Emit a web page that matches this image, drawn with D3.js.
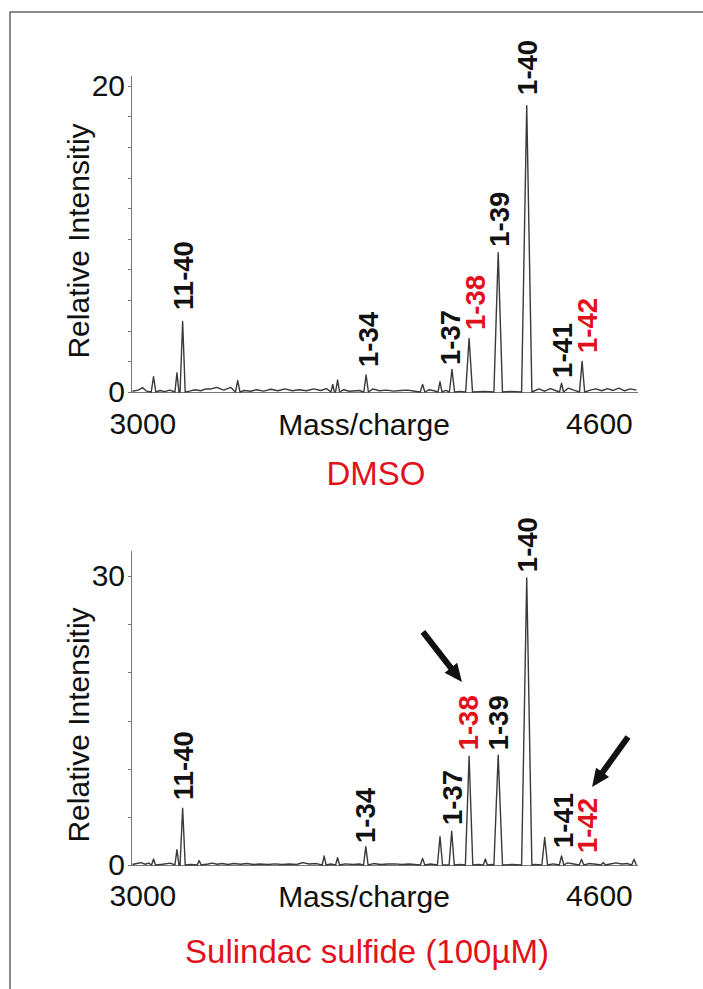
<!DOCTYPE html>
<html lang="en">
<head>
<meta charset="UTF-8">
<title>Mass spectra</title>
<script src="https://d3js.org/d3.v7.min.js"></script>
<style>
  body { margin: 0; background: #fff; }
  text { font-family: "Liberation Sans", Arial, sans-serif; fill: #111; }
  .axis path, .axis line { stroke: #777; stroke-width: 1; shape-rendering: crispEdges; }
  .axis text { font-size: 30px; fill: #111; }
  .peak { font-size: 27.5px; font-weight: bold; }
  .spec { fill: none; stroke: #3a3a3a; stroke-width: 1.4; stroke-linejoin: round; }
</style>
</head>
<body>
<div id="chart"></div>
<script>
// mass/charge axis
var massDomain = [2960, 4737];
var massTicks = [3000, 4600];
var redNames = ["1-38", "1-42"];

// DMSO spectrum: [mass, intensity, half width]
var dmsoPeaks = [
  [3039, 1.0, 8], [3121, 1.26, 7], [3141, 4.6, 9], [3334, 0.74, 8],
  [3667, 0.5, 6], [3684, 0.78, 7], [3784, 1.11, 8], [3982, 0.5, 8],
  [4043, 0.67, 7], [4085, 1.48, 9], [4145, 3.5, 12], [4247, 9.1, 15],
  [4347, 18.7, 18], [4469, 0.57, 7], [4541, 2.0, 9]
];
// small baseline wiggles: [mass, intensity]
var dmsoNoise = [
  [2965, 0.05], [2985, 0.12], [3001, 0.28], [3014, 0.06], [3062, 0.1], [3078, 0.02],
  [3096, 0.12], [3165, 0.06], [3185, 0.15], [3205, 0.08], [3222, 0.2], [3240, 0.2],
  [3261, 0.3], [3285, 0.12], [3310, 0.3], [3357, 0.1], [3380, 0.05], [3400, 0.15],
  [3425, 0.06], [3450, 0.18], [3475, 0.08], [3500, 0.2], [3525, 0.08], [3550, 0.15],
  [3575, 0.08], [3600, 0.2], [3625, 0.1], [3645, 0.22], [3706, 0.15], [3725, 0.05],
  [3760, 0.1], [3808, 0.2], [3830, 0.08], [3855, 0.12], [3880, 0.06], [3905, 0.1],
  [3930, 0.12], [3955, 0.05], [4005, 0.15], [4022, 0.08], [4063, 0.1], [4112, 0.04],
  [4196, 0.04], [4292, 0.04], [4390, 0.2], [4410, 0.05], [4430, 0.22], [4450, 0.08],
  [4492, 0.25], [4512, 0.12], [4570, 0.12], [4590, 0.2], [4610, 0.08], [4630, 0.22],
  [4650, 0.1], [4670, 0.25], [4690, 0.08], [4710, 0.2], [4732, 0.12]
];
var dmsoLabels = ["11-40", "1-34", "1-37", "1-38", "1-39", "1-40", "1-41", "1-42"];
var dmsoLabelMass = [3142, 3790, 4078, 4165, 4250, 4348, 4470, 4558];
var dmsoLabelBase = [5.36, 1.63, 1.76, 4.05, 9.48, 19.4, 0.92, 2.55];

// Sulindac sulfide spectrum
var sulPeaks = [
  [3039, 0.62, 7], [3121, 1.6, 7], [3141, 5.9, 9], [3199, 0.45, 7],
  [3637, 0.93, 7], [3684, 0.76, 7], [3783, 1.9, 8], [3982, 0.69, 8],
  [4043, 2.94, 9], [4084, 3.5, 9], [4145, 11.3, 13], [4202, 0.62, 7],
  [4247, 11.4, 15], [4347, 29.8, 18], [4410, 2.86, 10], [4469, 0.93, 8],
  [4539, 0.59, 8], [4615, 0.25, 8], [4723, 0.6, 8]
];
var sulNoise = [
  [2965, 0.05], [2980, 0.15], [2995, 0.24], [3010, 0.08], [3022, 0.2], [3070, 0.08],
  [3098, 0.2], [3170, 0.05], [3230, 0.1], [3245, 0.2], [3262, 0.08], [3280, 0.15],
  [3300, 0.05], [3320, 0.15], [3345, 0.08], [3365, 0.15], [3390, 0.05], [3410, 0.1],
  [3440, 0.05], [3465, 0.12], [3490, 0.05], [3515, 0.1], [3540, 0.05], [3562, 0.25],
  [3585, 0.1], [3610, 0.15], [3660, 0.1], [3710, 0.12], [3740, 0.05], [3760, 0.1],
  [3810, 0.15], [3835, 0.05], [3860, 0.1], [3885, 0.12], [3910, 0.05], [3935, 0.1],
  [3955, 0.05], [4010, 0.1], [4112, 0.05], [4178, 0.05], [4225, 0.05], [4295, 0.05],
  [4375, 0.05], [4440, 0.12], [4490, 0.22], [4512, 0.1], [4565, 0.15], [4590, 0.08],
  [4640, 0.1], [4660, 0.22], [4680, 0.1], [4700, 0.15]
];
var sulLabels = ["11-40", "1-34", "1-37", "1-38", "1-39", "1-40", "1-41", "1-42"];
var sulLabelMass = [3142, 3780, 4085, 4141, 4246, 4348, 4474, 4558];
var sulLabelBase = [6.74, 2.28, 4.15, 11.9, 11.9, 30.4, 1.76, 1.24];
// arrows: [fromMass, fromIntensity, toMass, toIntensity]
var sulArrows = [[3983, 24.2, 4120, 19.0], [4702, 13.3, 4576, 8.1]];

var W = 703, H = 989;
var svg = d3.select("#chart").append("svg")
  .attr("width", W).attr("height", H);

svg.append("rect").attr("width", W).attr("height", H).attr("fill", "#fff");
// frame (right and bottom edges fall outside the picture)
svg.append("rect")
  .attr("x", 10).attr("y", 12).attr("width", 760).attr("height", 1050)
  .attr("fill", "none").attr("stroke", "#666").attr("stroke-width", 1.5);

var x = d3.scaleLinear().domain(massDomain).range([131, 638]);

function drawPanel(p) {
  var y = d3.scaleLinear().domain([0, p.yMax]).range([p.y0, p.y1]);
  var g = svg.append("g");

  // y axis
  g.append("g")
    .attr("class", "axis")
    .attr("transform", "translate(131,0)")
    .call(d3.axisLeft(y)
      .tickValues(d3.range(0, p.yMax, p.step))
      .tickSize(3).tickSizeOuter(0).tickPadding(3)
      .tickFormat(function (d) { return p.yLabels.indexOf(d) >= 0 ? d : ""; }));

  // x axis
  var xa = g.append("g")
    .attr("class", "axis")
    .attr("transform", "translate(0," + p.y0 + ")")
    .call(d3.axisBottom(x).tickValues(massTicks).tickSize(0).tickSizeOuter(0)
      .tickPadding(p.xPad).tickFormat(d3.format("d")));
  xa.select(".domain").attr("d", "M131,0.5H638");

  g.append("text")
    .attr("x", 364).attr("y", p.y0 + p.xPad + 22)
    .attr("text-anchor", "middle").style("font-size", "30px")
    .text("Mass/charge");

  g.append("text")
    .attr("transform", "translate(89," + p.yTitle + ") rotate(-90)")
    .attr("text-anchor", "middle").style("font-size", "30px")
    .text("Relative Intensitiy");

  // spectrum line from peaks and baseline wiggles
  var pts = [];
  p.peaks.forEach(function (d) {
    pts.push([d[0] - d[2], 0], [d[0], d[1]], [d[0] + d[2], 0]);
  });
  p.noise.forEach(function (n) {
    var inside = p.peaks.some(function (d) {
      return n[0] > d[0] - d[2] - 3 && n[0] < d[0] + d[2] + 3;
    });
    if (!inside) pts.push(n);
  });
  pts.sort(function (a, b) { return a[0] - b[0]; });

  g.append("path")
    .attr("class", "spec")
    .attr("d", d3.line()
      .x(function (d) { return x(d[0]); })
      .y(function (d) { return y(d[1]); })(pts));

  // peak labels
  g.selectAll(".peak")
    .data(p.labels)
    .enter().append("text")
    .attr("class", "peak")
    .attr("transform", function (d, i) {
      return "translate(" + x(p.labelMass[i]) + "," + y(p.labelBase[i]) + ") rotate(-90)";
    })
    .attr("dy", "0.36em")
    .style("fill", function (d) { return redNames.indexOf(d) >= 0 ? "#e3101c" : "#111"; })
    .text(function (d) { return d; });

  // arrows
  (p.arrows || []).forEach(function (a) {
    var sx = x(a[0]), sy = y(a[1]), tx = x(a[2]), ty = y(a[3]);
    var len = Math.hypot(tx - sx, ty - sy);
    var ux = (tx - sx) / len, uy = (ty - sy) / len;
    var nx = -uy, ny = ux;
    var hx = tx - ux * 18, hy = ty - uy * 18;
    var sw = 3, hw = 8;
    var poly = [
      [sx + nx * sw, sy + ny * sw], [hx + nx * sw, hy + ny * sw], [hx + nx * hw, hy + ny * hw],
      [tx, ty], [hx - nx * hw, hy - ny * hw], [hx - nx * sw, hy - ny * sw], [sx - nx * sw, sy - ny * sw]
    ];
    g.append("path").attr("d", "M" + poly.join("L") + "Z").attr("fill", "#111");
  });

  g.append("text")
    .attr("x", p.titleX).attr("y", p.titleY)
    .attr("text-anchor", "middle")
    .style("font-size", "33px").style("fill", "#e3101c")
    .text(p.title);
}

drawPanel({
  y0: 392, y1: 75, yMax: 20.7, step: 2, yLabels: [0, 20], xPad: 21, yTitle: 241,
  peaks: dmsoPeaks, noise: dmsoNoise,
  labels: dmsoLabels, labelMass: dmsoLabelMass, labelBase: dmsoLabelBase,
  title: "DMSO", titleX: 376, titleY: 485
});

drawPanel({
  y0: 865, y1: 550, yMax: 32.7, step: 5, yLabels: [0, 30], xPad: 20, yTitle: 725,
  peaks: sulPeaks, noise: sulNoise,
  labels: sulLabels, labelMass: sulLabelMass, labelBase: sulLabelBase, arrows: sulArrows,
  title: "Sulindac sulfide (100\u00b5M)", titleX: 367, titleY: 963
});
</script>
</body>
</html>
